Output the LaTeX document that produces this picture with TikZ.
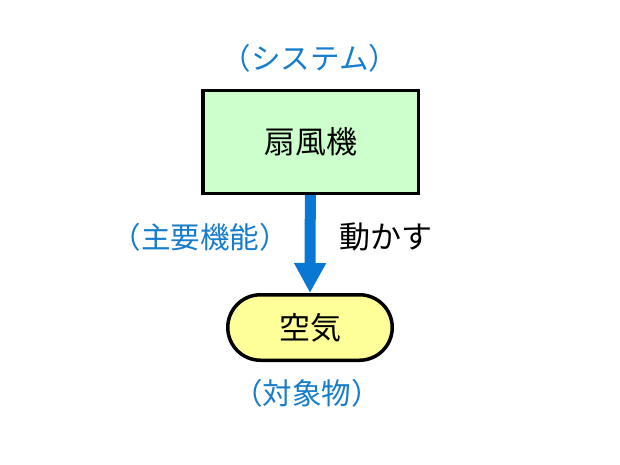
\documentclass[tikz,border=0pt]{standalone}
\usepackage{fontspec}
\setmainfont{Noto Sans CJK JP}
\usetikzlibrary{arrows.meta,shapes.misc}
\definecolor{lblblue}{RGB}{22,124,204}
\definecolor{arrblue}{RGB}{8,120,212}
\definecolor{boxgreen}{RGB}{204,255,204}
\definecolor{boxyellow}{RGB}{255,255,153}
\begin{document}
\begin{tikzpicture}[x=1pt,y=-1pt,
  sysbox/.style={draw=black,line width=3.5pt,fill=boxgreen,minimum width=215.5pt,minimum height=102.5pt,inner sep=0pt,font=\fontsize{31}{36}\selectfont},
  objbox/.style={draw=black,line width=3.5pt,fill=boxyellow,rounded rectangle,minimum width=164.5pt,minimum height=65.5pt,inner sep=0pt,font=\fontsize{31}{36}\selectfont},
  bluelbl/.style={text=lblblue,inner sep=0pt,font=\fontsize{29.5}{34}\selectfont},
  blacklbl/.style={text=black,inner sep=0pt,font=\fontsize{31}{36}\selectfont},
  funcarrow/.style={draw=arrblue,line width=11pt,-{Triangle[width=30pt,length=30pt]}}]
\useasboundingbox[fill=white] (0,0) rectangle (620,465);
\node[bluelbl] (syslbl) at (310,58) {（システム）};
\node[objbox] (air) at (310,327.5) {空気};
\draw[funcarrow] (310.5,142) coordinate (fanc) -- (air.north);
\node[sysbox] (fan) at (fanc) {扇風機};
\node[bluelbl] (funclbl) at (200,237) {（主要機能）};
\node[blacklbl] (verb) at (386,237) {動かす};
\node[bluelbl] (objlbl) at (307,393) {（対象物）};
\end{tikzpicture}
\end{document}
